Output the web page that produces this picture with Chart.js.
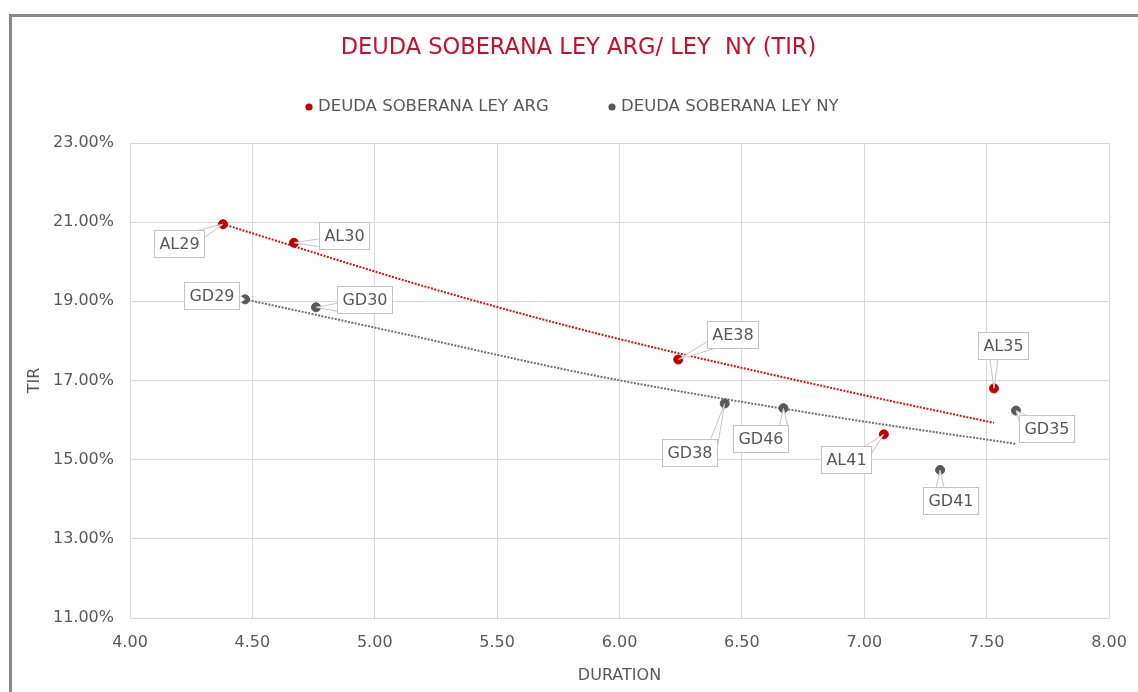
<!DOCTYPE html>
<html>
<head>
<meta charset="utf-8">
<script src="https://cdn.jsdelivr.net/npm/chart.js@4.4.1/dist/chart.umd.min.js"></script>
<style>
html,body{margin:0;padding:0;background:#fff;overflow:hidden;width:1138px;height:692px}
#frame{position:absolute;left:9px;top:14px;width:1400px;height:900px;border-top:3px solid #8a8a8a;border-left:3px solid #8a8a8a;box-sizing:border-box}
#c{position:absolute;left:0;top:0}
</style>
</head>
<body>
<div id="frame"></div>
<canvas id="c" width="1138" height="692"></canvas>
<script>
// ---- data ----
const chartTitle = 'DEUDA SOBERANA LEY ARG/ LEY  NY (TIR)';
const seriesNames = ['DEUDA SOBERANA LEY ARG', 'DEUDA SOBERANA LEY NY'];
const xAxisTitle = 'DURATION';
const yAxisTitle = 'TIR';

const argBonds    = ['AL29', 'AL30', 'AE38', 'AL41', 'AL35'];
const argDuration = [4.38, 4.67, 6.24, 7.08, 7.53];
const argTir      = [20.95, 20.48, 17.53, 15.64, 16.80];

const nyBonds     = ['GD29', 'GD30', 'GD38', 'GD46', 'GD41', 'GD35'];
const nyDuration  = [4.47, 4.76, 6.43, 6.67, 7.31, 7.62];
const nyTir       = [19.05, 18.85, 16.42, 16.30, 14.74, 16.24];

// trend lines
const argTrendX = [4.38, 5.23, 5.92, 6.94, 7.53];
const argTrendY = [20.95, 19.33, 18.17, 16.71, 15.93];
const nyTrendX  = [4.47, 5.02, 5.92, 6.94, 7.62];
const nyTrendY  = [19.05, 18.31, 17.10, 16.02, 15.40];

const xTickValues = [4.0, 4.5, 5.0, 5.5, 6.0, 6.5, 7.0, 7.5, 8.0];
const yTickValues = [11, 13, 15, 17, 19, 21, 23];

// ---- label placement (pixel offsets of callout centres from their points) ----
const argLabelOffsets = [[-44, 19], [50, -7], [54, -25], [-38, 25], [9, -43]];
const nyLabelOffsets  = [[-33, -4], [49, -8], [-35, 49], [-23, 30], [10, 31], [31, 18]];

const FONT = '"DejaVu Sans", Verdana, sans-serif';
const TEXT = '#595959';
const RED = '#C00000';
const GREY = '#595959';

const toXY = (xs, ys) => xs.map((x, i) => ({x: x, y: ys[i]}));

const calloutPlugin = {
  id: 'callouts',
  afterDatasetsDraw(chart, args, opts) {
    const ctx = chart.ctx;
    ctx.save();
    ctx.font = '16px ' + FONT;
    ctx.textAlign = 'center';
    ctx.textBaseline = 'middle';
    opts.sets.forEach(s => {
      const meta = chart.getDatasetMeta(s.dataset);
      meta.data.forEach((el, i) => {
        const px = el.x, py = el.y;
        const off = s.offsets[i];
        const text = s.labels[i];
        const tw = ctx.measureText(text).width;
        const w = tw + 10, h = 27;
        const cx = px + off[0], cy = py + off[1];
        const x0 = Math.round(cx - w / 2) + 0.5, y0 = Math.round(cy - h / 2) + 0.5;
        const x1 = x0 + Math.round(w), y1 = y0 + h;
        const outX = px < x0 || px > x1;
        const outY = py < y0 || py > y1;
        if (outX || outY) {
          const nx = Math.min(Math.max(px, x0), x1);
          const ny = Math.min(Math.max(py, y0), y1);
          let b1, b2;
          if (outX && outY) {
            b1 = [nx + (nx === x0 ? 7 : -7), ny];
            b2 = [nx, ny + (ny === y0 ? 7 : -7)];
          } else if (outX) {
            b1 = [nx, Math.max(y0, ny - 4)];
            b2 = [nx, Math.min(y1, ny + 4)];
          } else {
            b1 = [Math.max(x0, nx - 4), ny];
            b2 = [Math.min(x1, nx + 4), ny];
          }
          ctx.beginPath();
          ctx.moveTo(b1[0], b1[1]);
          ctx.lineTo(px, py);
          ctx.lineTo(b2[0], b2[1]);
          ctx.fillStyle = '#ffffff';
          ctx.fill();
          ctx.strokeStyle = '#C4C4C4';
          ctx.lineWidth = 1;
          ctx.stroke();
        }
        ctx.fillStyle = '#ffffff';
        ctx.fillRect(x0, y0, x1 - x0, y1 - y0);
        ctx.strokeStyle = '#C4C4C4';
        ctx.lineWidth = 1;
        ctx.strokeRect(x0, y0, x1 - x0, y1 - y0);
        ctx.fillStyle = TEXT;
        ctx.fillText(text, (x0 + x1) / 2, (y0 + y1) / 2 + 1);
      });
    });
    ctx.restore();
  }
};

const legendPlugin = {
  id: 'customLegend',
  afterDraw(chart, args, opts) {
    const ctx = chart.ctx;
    ctx.save();
    ctx.font = opts.font;
    ctx.textBaseline = 'middle';
    ctx.textAlign = 'left';
    opts.items.forEach(it => {
      const ds = chart.data.datasets[it.dataset];
      ctx.beginPath();
      ctx.arc(it.x, opts.y, 3.6, 0, Math.PI * 2);
      ctx.fillStyle = ds.backgroundColor;
      ctx.fill();
      ctx.fillStyle = TEXT;
      ctx.fillText(ds.label, it.x + 9, opts.y);
    });
    ctx.restore();
  }
};

new Chart(document.getElementById('c'), {
  type: 'scatter',
  data: {
    datasets: [
      { label: seriesNames[0], data: toXY(argDuration, argTir), backgroundColor: RED, borderColor: RED,
        pointRadius: 4.5, pointHoverRadius: 4.5, order: 1 },
      { label: seriesNames[1], data: toXY(nyDuration, nyTir), backgroundColor: GREY, borderColor: GREY,
        pointRadius: 4.5, pointHoverRadius: 4.5, order: 1 },
      { label: 'trend ARG', data: toXY(argTrendX, argTrendY), showLine: true, borderColor: '#E01010',
        borderWidth: 2, borderDash: [2, 1.4], pointRadius: 0, cubicInterpolationMode: 'monotone', order: 2 },
      { label: 'trend NY', data: toXY(nyTrendX, nyTrendY), showLine: true, borderColor: '#707070',
        borderWidth: 2, borderDash: [2, 1.4], pointRadius: 0, cubicInterpolationMode: 'monotone', order: 2 }
    ]
  },
  options: {
    responsive: false,
    animation: false,
    events: [],
    layout: { padding: { left: 48, right: 29, top: 0, bottom: 0 } },
    plugins: {
      legend: { display: false },
      tooltip: { enabled: false },
      title: {
        display: true,
        text: chartTitle,
        color: '#C8102E',
        font: { family: FONT, size: 22.5, weight: 'normal' },
        padding: { top: 34.5, bottom: 81.5 }
      },
      customLegend: {
        y: 107,
        font: '16.5px ' + FONT,
        items: [ { dataset: 0, x: 309 }, { dataset: 1, x: 612 } ]
      },
      callouts: {
        sets: [
          { dataset: 0, labels: argBonds, offsets: argLabelOffsets },
          { dataset: 1, labels: nyBonds, offsets: nyLabelOffsets }
        ]
      }
    },
    scales: {
      x: {
        type: 'linear',
        min: 4, max: 8,
        afterBuildTicks: s => { s.ticks = xTickValues.map(v => ({ value: v })); },
        afterFit: s => { s.height = 74; },
        ticks: { color: TEXT, font: { family: FONT, size: 16, lineHeight: 1.75 }, padding: 11,
                 callback: v => Number(v).toFixed(2) },
        grid: { color: '#D9D9D9', drawTicks: false, lineWidth: 1 },
        border: { display: true, color: '#D9D9D9' },
        title: { display: true, text: xAxisTitle, color: TEXT, font: { family: FONT, size: 16 },
                 padding: { top: 0, bottom: 7 } }
      },
      y: {
        type: 'linear',
        min: 11, max: 23,
        afterBuildTicks: s => { s.ticks = yTickValues.map(v => ({ value: v })); },
        afterFit: s => { s.width = 82; },
        ticks: { color: TEXT, font: { family: FONT, size: 16 }, padding: 16,
                 callback: v => Number(v).toFixed(2) + '%' },
        grid: { color: '#D9D9D9', drawTicks: false, lineWidth: 1 },
        border: { display: true, color: '#D9D9D9' },
        title: { display: true, text: yAxisTitle, color: TEXT, font: { family: FONT, size: 16 },
                 padding: { top: -22.6, bottom: 0 } }
      }
    }
  },
  plugins: [calloutPlugin, legendPlugin]
});
</script>
</body>
</html>
